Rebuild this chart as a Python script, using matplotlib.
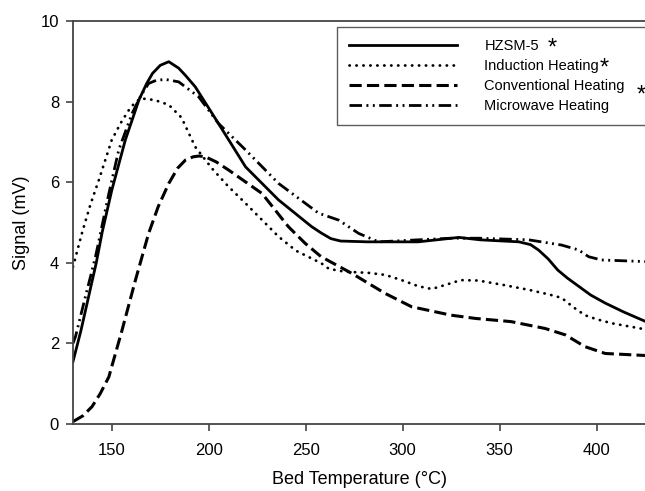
import matplotlib
matplotlib.use('Agg')
import matplotlib.pyplot as plt

plt.rcParams['font.family'] = ['Liberation Sans', 'DejaVu Sans']

# HZSM-5 (solid)
hz_x = [130, 134, 138, 142, 145, 150, 157, 164, 168, 171, 175, 179.4, 184.5, 188, 193, 201.7,
        210.3, 219, 236, 253, 258, 263, 268, 282, 308, 329, 340, 360, 366, 370, 375, 380, 385,
        391, 397, 404.5, 414, 425]
hz_y = [1.55, 2.3, 3.15, 4.0, 4.75, 5.8, 7.05, 8.04, 8.45, 8.7, 8.9, 8.99, 8.83, 8.65, 8.37,
        7.71, 7.05, 6.38, 5.56, 4.9, 4.74, 4.6, 4.54, 4.52, 4.52, 4.63, 4.57, 4.52, 4.45, 4.32,
        4.1, 3.82, 3.62, 3.41, 3.2, 3.0, 2.78, 2.55]

# Induction Heating (dotted)
ind_x = [130, 134.7, 139, 143.3, 150, 155, 158.8, 162, 165, 172, 179.4, 186, 193, 201.7, 210,
         218.9, 236, 245, 258, 262, 270, 282.5, 291, 299.5, 308, 315, 322, 330, 339, 352, 365,
         375, 382, 388, 394, 400, 407.8, 425]
ind_y = [3.9, 4.75, 5.45, 6.05, 7.05, 7.5, 7.79, 7.98, 8.08, 8.04, 7.92, 7.6, 6.88, 6.34, 5.9,
         5.48, 4.65, 4.3, 3.99, 3.85, 3.78, 3.75, 3.7, 3.57, 3.42, 3.35, 3.45, 3.57, 3.56, 3.45,
         3.33, 3.22, 3.13, 2.9, 2.7, 2.6, 2.5, 2.35]

# Conventional Heating (dashed)
con_x = [130, 135, 139.8, 144, 148.5, 155.3, 162.2, 169, 174, 179.4, 184, 188, 192, 195, 198.3,
         204, 210.3, 227.5, 241, 249.8, 258, 273.7, 291, 304.6, 325, 337.5, 356, 373.5, 384,
         394, 404.5, 425]
con_y = [0.06, 0.2, 0.43, 0.75, 1.17, 2.33, 3.57, 4.73, 5.4, 5.97, 6.35, 6.55, 6.63, 6.65, 6.63,
         6.5, 6.3, 5.72, 4.9, 4.48, 4.15, 3.74, 3.24, 2.91, 2.7, 2.62, 2.54, 2.37, 2.21, 1.92,
         1.75, 1.7]

# Microwave Heating (dash-dot-dot)
mw_x = [130, 131.3, 136.4, 141.6, 148.5, 153.6, 160.5, 165, 169, 173, 177.7, 184.5, 194.8, 205,
        219, 236, 256.7, 267, 277.3, 287.6, 308, 325, 339, 365, 382, 390.7, 396, 402.6, 425]
mw_y = [2.0, 2.17, 3.16, 4.15, 5.72, 6.8, 7.71, 8.15, 8.45, 8.53, 8.55, 8.49, 8.12, 7.46, 6.8,
        5.97, 5.23, 5.06, 4.73, 4.52, 4.57, 4.61, 4.61, 4.57, 4.44, 4.32, 4.15, 4.07, 4.03]

labels = ['HZSM-5', 'Induction Heating', 'Conventional Heating', 'Microwave Heating']
x_ticks = [150, 200, 250, 300, 350, 400]
y_ticks = [0, 2, 4, 6, 8, 10]

fig = plt.figure(figsize=(6.45, 4.91), dpi=100)
ax = fig.add_axes([73 / 645, 1 - 424 / 491, 572 / 645, 403 / 491])

ax.plot(hz_x, hz_y, color='black', lw=2.0, ls='-', label=labels[0])
ax.plot(ind_x, ind_y, color='black', lw=2.0, ls=(0, (0.1, 2.4)),
        dash_capstyle='round', label=labels[1])
ax.plot(con_x, con_y, color='black', lw=2.2, ls=(0, (4, 1.7)), label=labels[2])
ax.plot(mw_x, mw_y, color='black', lw=2.0, ls=(0, (4.5, 1.6, 0.7, 1.6, 0.7, 1.6)),
        label=labels[3])

ax.set_xlim(130, 425)
ax.set_ylim(0, 10)
ax.set_xticks(x_ticks)
ax.set_yticks(y_ticks)
ax.tick_params(axis='both', labelsize=12, direction='out', length=5, width=1.2,
               color='#444444')
ax.tick_params(axis='x', pad=9)
ax.tick_params(axis='y', pad=5)
for side in ['left', 'bottom', 'top']:
    ax.spines[side].set_color('#444444')
    ax.spines[side].set_linewidth(1.3)
ax.spines['right'].set_visible(False)

ax.set_xlabel('Bed Temperature (\u00b0C)', fontsize=13, labelpad=9)
ax.set_ylabel('Signal (mV)', fontsize=13, labelpad=8)

leg = ax.legend(loc='upper left', bbox_to_anchor=(264 / 572, 299 / 403, 0.6, 98 / 403),
                mode='expand', fontsize=10.5, handlelength=7.4, handletextpad=1.9,
                labelspacing=0.42, borderaxespad=0, frameon=True, fancybox=False,
                borderpad=0.8)
leg.get_frame().set_edgecolor('#333333')
leg.get_frame().set_linewidth(1.0)

# asterisks next to legend entries
fig.text(552 / 645, 1 - 49 / 491, '*', fontsize=17, ha='center', va='center')
fig.text(604 / 645, 1 - 69 / 491, '*', fontsize=17, ha='center', va='center')
fig.text(641 / 645, 1 - 96 / 491, '*', fontsize=17, ha='center', va='center')

fig.savefig('out.png', dpi=100)
